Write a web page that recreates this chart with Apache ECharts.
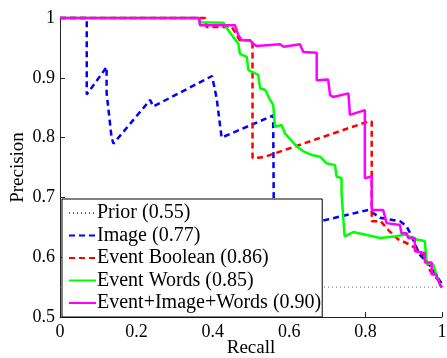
<!DOCTYPE html>
<html>
<head>
<meta charset="utf-8">
<script src="https://cdn.jsdelivr.net/npm/echarts@6/dist/echarts.min.js"></script>
<style>
  html, body { margin: 0; padding: 0; background: #fff; }
  #chart { width: 447px; height: 358px; }
</style>
</head>
<body>
<div id="chart"></div>
<script>
// recall / precision pairs
const seriesNames = ['Prior (0.55)', 'Image (0.77)', 'Event Boolean (0.86)', 'Event Words (0.85)', 'Event+Image+Words (0.90)'];

const prior = [[0, 0.55], [1, 0.55]];

const image = [
  [0, 1], [0.07, 1], [0.07, 0.872], [0.122, 0.918], [0.122, 0.875], [0.135, 0.80], [0.14, 0.79],
  [0.236, 0.863], [0.244, 0.852], [0.398, 0.903], [0.41, 0.866], [0.423, 0.80], [0.425, 0.80],
  [0.558, 0.837], [0.56, 0.837], [0.56, 0.643], [0.70, 0.663], [0.807, 0.679], [0.838, 0.666],
  [0.89, 0.66], [0.907, 0.652], [0.916, 0.641], [0.942, 0.604], [0.97, 0.585], [1, 0.555]
];

const eventBoolean = [
  [0, 1], [0.38, 1], [0.384, 0.985], [0.45, 0.985], [0.47, 0.963], [0.504, 0.963], [0.504, 0.766],
  [0.532, 0.767], [0.807, 0.827], [0.816, 0.827], [0.816, 0.66], [0.84, 0.66], [0.86, 0.645],
  [0.885, 0.63], [0.916, 0.621], [0.942, 0.61], [0.955, 0.6], [0.969, 0.577], [1, 0.555]
];

const eventWords = [
  [0, 1], [0.362, 1], [0.365, 0.993], [0.428, 0.992], [0.44, 0.98], [0.454, 0.968], [0.467, 0.957],
  [0.471, 0.94], [0.489, 0.935], [0.493, 0.913], [0.519, 0.905], [0.524, 0.882], [0.537, 0.88],
  [0.55, 0.863], [0.558, 0.855], [0.563, 0.818], [0.58, 0.821], [0.589, 0.807], [0.62, 0.785],
  [0.637, 0.777], [0.659, 0.771], [0.681, 0.768], [0.698, 0.757], [0.72, 0.754], [0.724, 0.735],
  [0.737, 0.732], [0.737, 0.707], [0.742, 0.707], [0.745, 0.635], [0.768, 0.642], [0.838, 0.632],
  [0.881, 0.635], [0.903, 0.638], [0.93, 0.63], [0.955, 0.627], [0.96, 0.59], [0.977, 0.588],
  [0.995, 0.552], [1, 0.55]
];

const allCombined = [
  [0, 1], [0.365, 1], [0.366, 0.988], [0.458, 0.988], [0.467, 0.971], [0.476, 0.963], [0.497, 0.963],
  [0.506, 0.957], [0.515, 0.953], [0.576, 0.956], [0.585, 0.952], [0.628, 0.956], [0.637, 0.943],
  [0.672, 0.942], [0.672, 0.896], [0.702, 0.897], [0.707, 0.871], [0.715, 0.868], [0.755, 0.874],
  [0.759, 0.838], [0.798, 0.846], [0.798, 0.732], [0.816, 0.735], [0.816, 0.679], [0.846, 0.679],
  [0.855, 0.657], [0.89, 0.654], [0.894, 0.652], [0.894, 0.64], [0.907, 0.64], [0.912, 0.632],
  [0.929, 0.632], [0.929, 0.61], [0.955, 0.607], [0.955, 0.591], [0.973, 0.591], [0.973, 0.571],
  [0.986, 0.571], [0.986, 0.566], [1, 0.549]
];

const font = '"Liberation Serif", "Times New Roman", serif';

function lineSeries(name, data, color, width, dash) {
  return {
    name: name,
    type: 'line',
    data: data,
    symbol: 'none',
    clip: false,
    lineStyle: { color: color, width: width, type: dash },
    itemStyle: { color: color }
  };
}

const chart = echarts.init(document.getElementById('chart'));
chart.setOption({
  animation: false,
  backgroundColor: '#fff',
  grid: { left: 60, right: 5, top: 18, bottom: 41, containLabel: false, outerBoundsMode: 'none' },
  xAxis: {
    type: 'value', min: 0, max: 1, interval: 0.2,
    name: 'Recall', nameLocation: 'middle', nameGap: 22, nameMoveOverlap: false,
    nameTextStyle: { fontFamily: font, fontSize: 19, color: '#000' },
    axisLine: { lineStyle: { color: '#222', width: 1 } },
    axisTick: { inside: true, length: 5, lineStyle: { color: '#222' } },
    axisLabel: { fontFamily: font, fontSize: 18, color: '#000', margin: 6,
                 alignMinLabel: 'center', alignMaxLabel: 'center', hideOverlap: false },
    splitLine: { show: false }
  },
  yAxis: {
    type: 'value', min: 0.5, max: 1, interval: 0.1,
    name: 'Precision', nameLocation: 'middle', nameGap: 32, nameMoveOverlap: false,
    nameTextStyle: { fontFamily: font, fontSize: 19, color: '#000' },
    axisLine: { show: true, lineStyle: { color: '#222', width: 1 } },
    axisTick: { show: true, inside: true, length: 5, lineStyle: { color: '#222' } },
    axisLabel: { fontFamily: font, fontSize: 18, color: '#000', margin: 5,
                 verticalAlign: 'middle', hideOverlap: false },
    splitLine: { show: false }
  },
  legend: {
    orient: 'vertical',
    left: 62, top: 199,
    data: seriesNames,
    backgroundColor: '#fff',
    borderColor: '#000', borderWidth: 1,
    padding: [4, 1, 4, 6],
    itemWidth: 27, itemHeight: 14, itemGap: 2.5,
    itemStyle: { opacity: 0 },
    textStyle: { fontFamily: font, fontSize: 20, color: '#000', lineHeight: 20, padding: [0, 0, 0, -4] }
  },
  series: [
    lineSeries(seriesNames[0], prior, '#666', 1, [1, 3]),
    lineSeries(seriesNames[1], image, '#0000ff', 2.5, [6, 4]),
    lineSeries(seriesNames[2], eventBoolean, '#ff0000', 2.5, [6, 4]),
    lineSeries(seriesNames[3], eventWords, '#00ff00', 2.5, 'solid'),
    lineSeries(seriesNames[4], allCombined, '#ff00ff', 2.5, 'solid')
  ]
});
</script>
</body>
</html>
